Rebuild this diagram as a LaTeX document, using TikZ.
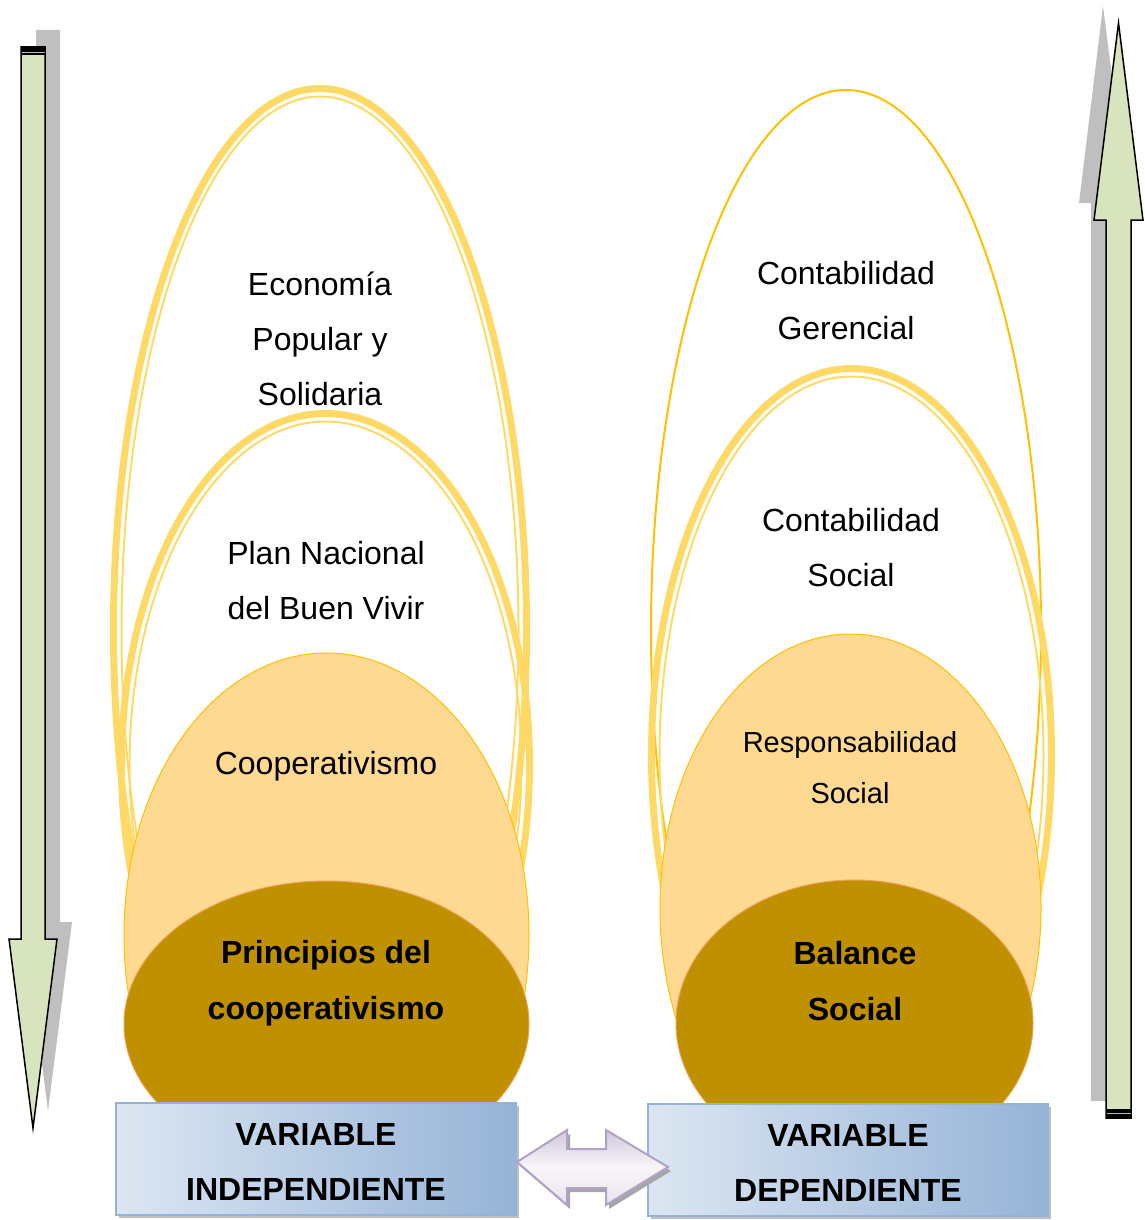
\documentclass[tikz,border=0pt]{standalone}
\usepackage{fontspec}
\setmainfont{Liberation Sans}
\usetikzlibrary{shapes.geometric,shadows}
\definecolor{gold}{HTML}{FFD966}
\definecolor{amber}{HTML}{FFC000}
\definecolor{lorange}{RGB}{254,217,146}
\definecolor{dgold}{HTML}{BF9000}
\definecolor{dgoldline}{HTML}{F0A050}
\definecolor{agreen}{HTML}{D7E4BD}
\definecolor{shadowgray}{HTML}{BFBFBF}
\definecolor{boxlight}{HTML}{DCE6F2}
\definecolor{boxdark}{HTML}{95B3D7}
\definecolor{lav}{HTML}{B3A2C7}
\begin{document}
\begin{tikzpicture}[x=1pt,y=-1pt,
  ell/.style={ellipse, inner sep=0pt, outer sep=0pt},
  thickring/.style={ell, draw=gold, line width=7pt},
  thinring/.style={ell, draw=gold, line width=2pt},
  softegg/.style={ell, fill=lorange, draw=amber, line width=1pt},
  darkegg/.style={ell, fill=dgold, draw=dgoldline, line width=1pt},
  lbl/.style={inner sep=0pt, align=center, font=\fontsize{32}{55}\selectfont},
  blbl/.style={inner sep=0pt, align=center, font=\fontsize{32}{56}\selectfont\bfseries},
  vbox/.style={draw=boxdark, line width=2pt, left color=boxlight, right color=boxdark,
    minimum width=400pt, minimum height=112pt, inner sep=0pt,
    drop shadow={shadow xshift=3pt, shadow yshift=-3pt, fill=shadowgray, opacity=1}},
  boxtext/.style={inner sep=0pt, align=center, font=\fontsize{32}{55}\selectfont\bfseries},
  arrowbody/.style={fill=agreen, draw=black, line width=1.5pt, line join=miter},
  arrowshadow/.style={fill=shadowgray}
]
\useasboundingbox (0,0) rectangle (1144,1220);

% ---------- side arrows ----------
\fill[arrowshadow] (36,30) -- (60,30) -- (60,922) -- (72,922) -- (48,1111) -- (24,922) -- (36,922) -- cycle;
\draw[arrowbody] (21,47) -- (45,47) -- (45,939) -- (57,939) -- (33,1128) -- (9,939) -- (21,939) -- cycle;
\fill[black] (20.5,46) rectangle (45.5,55);
\draw[agreen!60!gray, line width=0.8pt] (21.5,52) -- (44.5,52);

\fill[arrowshadow] (1103,6) -- (1128,203) -- (1116,203) -- (1116,1101) -- (1091,1101) -- (1091,203) -- (1079,203) -- cycle;
\draw[arrowbody] (1118.5,23) -- (1143,220) -- (1131,220) -- (1131,1118) -- (1106,1118) -- (1106,220) -- (1094,220) -- cycle;
\fill[black] (1105.5,1109) rectangle (1131.5,1118.5);
\draw[agreen!60!gray, line width=0.8pt] (1106.5,1113) -- (1130.5,1113);

% ---------- left group ----------
\node[thickring, minimum width=413pt, minimum height=1083pt] (epsOut) at (320,630) {};
\node[thinring, minimum width=397pt, minimum height=1067pt] (epsIn) at (320,630) {};
\node[thickring, minimum width=408pt, minimum height=703pt] (pnbvOut) at (325.5,765) {};
\node[thinring, minimum width=392pt, minimum height=687pt] (pnbvIn) at (325.5,765) {};
\node[softegg, minimum width=405pt, minimum height=564pt] (coop) at (326.5,935) {};
\node[darkegg, minimum width=405pt, minimum height=286pt] (princ) at (326.5,1024) {};

\node[lbl] (tEps) at (320,339) {Economía\\Popular y\\Solidaria};
\node[lbl] (tPnbv) at (326,581) {Plan Nacional\\del Buen Vivir};
\node[lbl] (tCoop) at (326,766) {Cooperativismo};
\node[blbl] (tPrinc) at (326,983) {Principios del\\cooperativismo};

% ---------- right group ----------
\node[ell, draw=amber, line width=2pt, minimum width=390pt, minimum height=1080pt] (cg) at (846,630) {};
\node[thickring, minimum width=400pt, minimum height=773pt] (csOut) at (851.5,755) {};
\node[thinring, minimum width=384pt, minimum height=757pt] (csIn) at (851.5,755) {};
\node[softegg, minimum width=381pt, minimum height=548pt] (rs) at (850.5,908) {};
\node[darkegg, minimum width=357pt, minimum height=286pt] (bs) at (854.5,1023) {};

\node[lbl] (tCg) at (846,301) {Contabilidad\\Gerencial};
\node[lbl] (tCs) at (851,548) {Contabilidad\\Social};
\node[inner sep=0pt, align=center, font=\fontsize{29}{51}\selectfont] (tRs) at (850,768) {Responsabilidad\\Social};
\node[blbl] (tBs) at (855,981) {Balance\\Social};

% ---------- bottom boxes ----------
\node[vbox] (vi) at (316,1159) {};
\node[boxtext] (tVi) at (316,1162) {VARIABLE\\INDEPENDIENTE};
\node[vbox] (vd) at (848,1160) {};
\node[boxtext] (tVd) at (848,1162.5) {VARIABLE\\DEPENDIENTE};

% ---------- double arrow ----------
\draw[draw=lav, line width=2pt, line join=miter, top color=lav!60, bottom color=lav!30, middle color=lav!10,
  drop shadow={shadow xshift=3pt, shadow yshift=-4pt, fill=gray!70, opacity=1}]
  (517,1162) -- (567,1130) -- (567,1149) -- (606,1149) -- (606,1130) -- (668,1167)
  -- (606,1205) -- (606,1188) -- (567,1188) -- (567,1205) -- cycle;
\end{tikzpicture}
\end{document}
